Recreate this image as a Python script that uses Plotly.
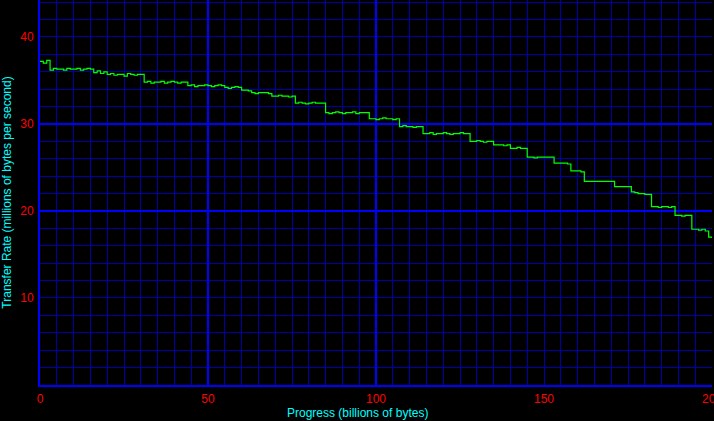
import plotly.graph_objects as go

# Data
progress = list(range(201))  # billions of bytes
rate = [
    37.2, 37.0, 37.3,
    36.2, 36.4, 36.3, 36.3, 36.2, 36.4, 36.3, 36.3, 36.4, 36.2, 36.3, 36.4, 36.3,
    35.9, 36.1, 35.8, 36.0,
    35.7, 35.8, 35.6, 35.7, 35.7, 35.5, 35.8, 35.7, 35.6, 35.7, 35.7,
    34.8, 34.9, 34.7, 34.8, 34.8, 34.9, 34.7, 34.8, 34.9, 34.8, 34.7, 34.8, 34.8,
    34.4, 34.5, 34.3, 34.4, 34.4, 34.5, 34.4, 34.3, 34.4, 34.5, 34.4,
    34.2, 34.1, 34.2, 34.3, 34.2,
    33.9, 33.9, 33.8,
    33.6, 33.5, 33.6, 33.6, 33.6, 33.5,
    33.2, 33.2, 33.3, 33.2, 33.2, 33.1, 33.2,
    32.4, 32.5, 32.4, 32.3, 32.4, 32.5, 32.4, 32.4, 32.4,
    31.3, 31.2, 31.3, 31.4, 31.3, 31.2, 31.3, 31.3, 31.4, 31.2, 31.3, 31.3, 31.3,
    30.6, 30.6, 30.5, 30.6, 30.7, 30.6, 30.6, 30.5, 30.6,
    29.7, 29.8, 29.7, 29.7, 29.6, 29.7, 29.7,
    28.9, 28.9, 29.0, 28.8, 28.9, 28.9, 29.0, 28.9, 28.8, 28.9, 28.9, 29.0, 28.9, 28.9,
    28.0, 28.0, 28.1, 28.0, 27.9, 28.0, 28.0,
    27.6, 27.6, 27.6, 27.5, 27.6,
    27.2, 27.2, 27.3, 27.2, 27.2,
    26.2, 26.2, 26.1, 26.2, 26.2, 26.2, 26.2, 26.2,
    25.5, 25.5, 25.5, 25.5, 25.4,
    24.6, 24.6, 24.6, 24.5,
    23.4, 23.4, 23.4, 23.4, 23.4, 23.4, 23.4, 23.4, 23.4,
    22.8, 22.8, 22.8, 22.8, 22.8,
    22.2, 22.1, 22.0, 22.0, 21.9, 21.9,
    20.5, 20.5, 20.4, 20.5, 20.5, 20.4, 20.5,
    19.5, 19.5, 19.4, 19.5, 19.5,
    17.9, 17.9, 17.8, 17.9, 17.7,
    17.0, 16.9,
]
x_ticks = [0, 50, 100, 150, 200]
y_ticks = [10, 20, 30, 40]
x_grid = list(range(0, 201, 5))
y_grid = list(range(0, 45, 2))
x_bright = [50, 100]
y_bright = [20, 30]
x_title = "Progress (billions of bytes)"
y_title = "Transfer Rate (millions of bytes per second)"

MAJOR = "#0000ff"
MINOR = "#0000a8"
FONT = "Liberation Sans"
X_RANGE = [0, 200]
Y_RANGE = [0, 44.25]

fig = go.Figure()
# helper subplot carrying the brighter grid lines
fig.add_trace(go.Scatter(x=[], y=[], xaxis="x2", yaxis="y2", showlegend=False, hoverinfo="skip"))
fig.add_trace(go.Scatter(
    x=progress, y=rate, mode="lines",
    line=dict(color="#00ff00", width=1.2, shape="hv"),
    showlegend=False, hoverinfo="skip",
))

fig.update_layout(
    template="none",
    width=714, height=421,
    margin=dict(l=40, r=2, t=0, b=36),
    paper_bgcolor="#000000", plot_bgcolor="#000000",
    font=dict(family=FONT, size=12),
    annotations=[dict(
        text=x_title, xref="paper", yref="paper",
        x=(357 - 40) / 672, y=0, yshift=-28, xanchor="center", yanchor="middle",
        showarrow=False, font=dict(color="#00ffff", size=12, family=FONT),
    )],
    xaxis=dict(
        range=X_RANGE, tickmode="array", tickvals=x_grid,
        ticktext=[str(v) if v in x_ticks else "" for v in x_grid],
        tickfont=dict(color="#ff0000", size=12, family=FONT),
        ticks="outside", ticklen=2, tickcolor="rgba(0,0,0,0)",
        ticklabeloverflow="allow",
        showgrid=True, gridcolor=MINOR, gridwidth=1,
        showline=True, linecolor=MAJOR, linewidth=2, zeroline=False,
        automargin=False,
    ),
    yaxis=dict(
        range=Y_RANGE, tickmode="array", tickvals=y_grid,
        ticktext=[str(v) if v in y_ticks else "" for v in y_grid],
        tickfont=dict(color="#ff0000", size=12, family=FONT),
        ticks="", ticklabelstandoff=2,
        showgrid=True, gridcolor=MINOR, gridwidth=1,
        showline=True, linecolor=MAJOR, linewidth=2, zeroline=False,
        title=dict(text=y_title, font=dict(color="#00ffff", size=12, family=FONT), standoff=6),
        automargin=False,
    ),
    xaxis2=dict(
        range=X_RANGE, overlaying="x", anchor="y2", tickmode="array", tickvals=x_bright,
        showticklabels=False, ticks="", showgrid=True, gridcolor=MAJOR, gridwidth=2,
        showline=False, zeroline=False, automargin=False,
    ),
    yaxis2=dict(
        range=Y_RANGE, overlaying="y", anchor="x2", tickmode="array", tickvals=y_bright,
        showticklabels=False, ticks="", showgrid=True, gridcolor=MAJOR, gridwidth=2,
        showline=False, zeroline=False, automargin=False,
    ),
)

fig.write_html(
    "out.html",
    config={"displayModeBar": False},
    post_script="document.body.style.margin='0px';document.body.style.background='#000';",
)
